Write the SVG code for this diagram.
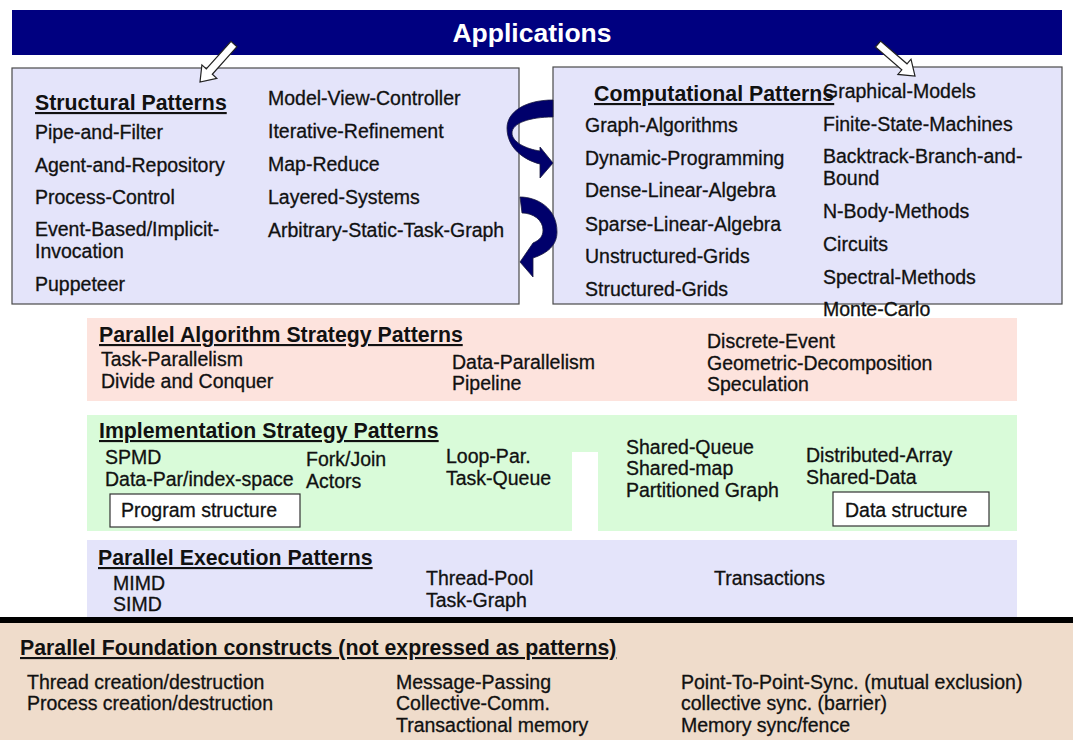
<svg xmlns="http://www.w3.org/2000/svg" width="1073" height="740" viewBox="0 0 1073 740">
<style>
text{font-family:"Liberation Sans",Arial,sans-serif;fill:#111;}
.it{font-size:19.5px;stroke:#111;stroke-width:0.3;}
.hd{font-size:21.3px;font-weight:bold;text-decoration:underline;}
.box{stroke:#4a4a4a;stroke-width:1.2;}
.lav{fill:#e4e4fa;}
.wbox{fill:#fff;stroke:#333;stroke-width:1.2;}
.curl{fill:#00006b;stroke:#1a1a40;stroke-width:0.8;}
.warr{fill:#fff;stroke:#222;stroke-width:1.2;stroke-linejoin:miter;}
</style>
<rect width="1073" height="740" fill="#fff"/>

<g id="applications">
<rect x="12" y="10" width="1050" height="45" fill="#000080"/>
<text x="532" y="42" text-anchor="middle" style="font-size:26.5px;font-weight:bold;fill:#fff">Applications</text>
</g>

<g id="structural">
<rect class="box lav" x="12" y="68" width="507" height="236"/>
<text class="hd" x="35" y="110">Structural Patterns</text>
<text class="it" x="35" y="139">Pipe-and-Filter</text>
<text class="it" x="35" y="172">Agent-and-Repository</text>
<text class="it" x="35" y="204">Process-Control</text>
<text class="it" x="35" y="236">Event-Based/Implicit-</text>
<text class="it" x="35" y="258">Invocation</text>
<text class="it" x="35" y="291">Puppeteer</text>
<text class="it" x="268" y="105">Model-View-Controller</text>
<text class="it" x="268" y="138">Iterative-Refinement</text>
<text class="it" x="268" y="171">Map-Reduce</text>
<text class="it" x="268" y="204">Layered-Systems</text>
<text class="it" x="268" y="237">Arbitrary-Static-Task-Graph</text>
</g>

<g id="computational">
<rect class="box lav" x="553" y="67" width="509" height="237"/>
<text class="it" x="823" y="98">Graphical-Models</text>
<text class="hd" x="594" y="101">Computational Patterns</text>
<text class="it" x="585" y="132">Graph-Algorithms</text>
<text class="it" x="585" y="165">Dynamic-Programming</text>
<text class="it" x="585" y="197">Dense-Linear-Algebra</text>
<text class="it" x="585" y="231">Sparse-Linear-Algebra</text>
<text class="it" x="585" y="263">Unstructured-Grids</text>
<text class="it" x="585" y="296">Structured-Grids</text>
<text class="it" x="823" y="131">Finite-State-Machines</text>
<text class="it" x="823" y="163">Backtrack-Branch-and-</text>
<text class="it" x="823" y="185">Bound</text>
<text class="it" x="823" y="218">N-Body-Methods</text>
<text class="it" x="823" y="251">Circuits</text>
<text class="it" x="823" y="284">Spectral-Methods</text>
</g>

<g id="algorithm-strategy">
<rect x="87" y="318" width="930" height="83" fill="#fde3dd"/>
<text class="hd" x="99" y="342">Parallel Algorithm Strategy Patterns</text>
<text class="it" x="101" y="366">Task-Parallelism</text>
<text class="it" x="101" y="388">Divide and Conquer</text>
<text class="it" x="452" y="369">Data-Parallelism</text>
<text class="it" x="452" y="390">Pipeline</text>
<text class="it" x="707" y="348">Discrete-Event</text>
<text class="it" x="707" y="370">Geometric-Decomposition</text>
<text class="it" x="707" y="391">Speculation</text>
</g>
<text class="it" x="823" y="316">Monte-Carlo</text>

<g id="implementation-strategy">
<path d="M87 415 H1017 V531 H598 V452 H572 V531 H87 Z" fill="#d9fbd9"/>
<text class="hd" x="99" y="438">Implementation Strategy Patterns</text>
<text class="it" x="105" y="464">SPMD</text>
<text class="it" x="105" y="486">Data-Par/index-space</text>
<text class="it" x="306" y="466">Fork/Join</text>
<text class="it" x="306" y="488">Actors</text>
<text class="it" x="446" y="463">Loop-Par.</text>
<text class="it" x="446" y="485">Task-Queue</text>
<text class="it" x="626" y="454">Shared-Queue</text>
<text class="it" x="626" y="475">Shared-map</text>
<text class="it" x="626" y="497">Partitioned Graph</text>
<text class="it" x="806" y="462">Distributed-Array</text>
<text class="it" x="806" y="484">Shared-Data</text>
</g>
<g id="program-structure">
<rect class="wbox" x="110" y="494" width="190" height="33"/>
<text class="it" x="121" y="517">Program structure</text>
</g>
<g id="data-structure">
<rect class="wbox" x="833" y="492" width="156" height="34"/>
<text class="it" x="845" y="517">Data structure</text>
</g>

<g id="execution">
<rect x="87" y="540" width="930" height="77" fill="#e4e4fa"/>
<text class="hd" x="98" y="565">Parallel Execution Patterns</text>
<text class="it" x="113" y="590">MIMD</text>
<text class="it" x="113" y="611">SIMD</text>
<text class="it" x="426" y="585">Thread-Pool</text>
<text class="it" x="426" y="607">Task-Graph</text>
<text class="it" x="714" y="585">Transactions</text>
</g>

<g id="foundation">
<rect x="0" y="617" width="1073" height="6" fill="#000"/>
<rect x="0" y="623" width="1073" height="117" fill="#efdccb"/>
<text class="hd" x="20" y="655">Parallel Foundation constructs (not expressed as patterns)</text>
<text class="it" x="27" y="689">Thread creation/destruction</text>
<text class="it" x="27" y="710">Process creation/destruction</text>
<text class="it" x="396" y="689">Message-Passing</text>
<text class="it" x="396" y="710">Collective-Comm.</text>
<text class="it" x="396" y="732">Transactional memory</text>
<text class="it" x="681" y="689">Point-To-Point-Sync. (mutual exclusion)</text>
<text class="it" x="681" y="710">collective sync. (barrier)</text>
<text class="it" x="681" y="732">Memory sync/fence</text>
</g>

<g id="connectors">
<polygon class="warr" points="237,46.7 212.3,74.3 216.8,78.3 200,82 201.9,64.9 206.3,68.9 231,41.3"/>
<polygon class="warr" points="875.4,47 901.8,69.8 897.9,74.4 915,76 911,59.2 907,63.8 880.6,41"/>
<path class="curl" d="M553 100 C525 100 507 112 507 128 C507 148 524 160 540 164 L540 178 L553 163 L540 147 L540 151 C526 149 512 142 512 133 C512 123 530 117 553 117 Z"/>
<path class="curl" d="M520 197 C536 197 557 207 557 232 C557 245 548 253 533 258 L533 277 L520 262 L533 243 C540 240 543 236 543 230 C543 220 533 213 522 213 Z"/>
</g>
</svg>
